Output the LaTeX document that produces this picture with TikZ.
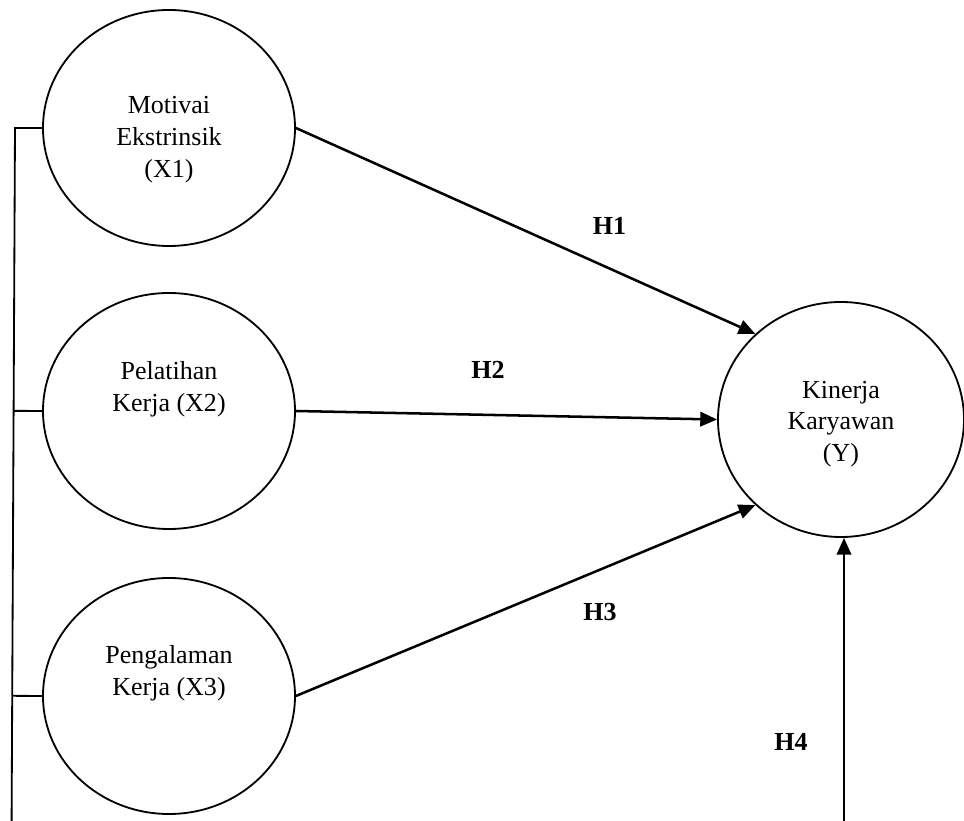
\documentclass[tikz,border=0pt]{standalone}
\usepackage{fontspec}
\setmainfont{Liberation Serif}
\usetikzlibrary{shapes.geometric, arrows.meta, calc}

\begin{document}
\begin{tikzpicture}[
    latent/.style={draw, ellipse, line width=1.3pt, minimum width=6.3cm, minimum height=5.9cm, inner sep=0pt},
    label_text/.style={align=center, font=\fontsize{18.5}{22.5}\selectfont},
    hyp/.style={font=\fontsize{18.5}{22.5}\selectfont\bfseries},
    path_arrow/.style={draw, line width=1.8pt, -{Triangle[length=0.42cm, width=0.36cm]}},
    link_line/.style={draw, line width=1.3pt}
]
    \useasboundingbox (0,0) rectangle (24.1,20.525);

    % Define coordinates
    \def\xX{4.225}
    \def\xaY{17.325}
    \def\xbY{10.25}
    \def\xcY{3.125}
    \def\yX{21.025}
    \def\yY{10.0375}

    % Variables
    \node[latent] (x1) at (\xX, \xaY) {};
    \node[latent] (x2) at (\xX, \xbY) {};
    \node[latent] (x3) at (\xX, \xcY) {};
    \node[latent, minimum width=6.15cm, minimum height=5.875cm] (y) at (\yX, \yY) {};

    % Labels
    \node[label_text] (x1text) at (\xX, \xaY-0.29) {Motivai\\Ekstrinsik\\(X1)};
    \node[label_text] (x2text) at (\xX, \xbY+0.54) {Pelatihan\\Kerja (X2)};
    \node[label_text] (x3text) at (\xX, \xcY+0.57) {Pengalaman\\Kerja (X3)};
    \node[label_text] (ytext) at (\yX, \yY-0.11) {Kinerja\\Karyawan\\(Y)};

    % Line joining X1, X2 and X3
    \coordinate (busTop) at (0.375, \xaY);
    \coordinate (busEnd) at (0.29, 0);
    \draw[link_line] (x1.west) -- (busTop) -- (busEnd);
    \draw[link_line] (x2.west) -- ($(busTop)!(x2.west)!(busEnd)$);
    \draw[link_line] (x3.west) -- ($(busTop)!(x3.west)!(busEnd)$);

    % Paths to Y
    \draw[path_arrow] (x1.east) -- (y.135);
    \draw[path_arrow] (x2.east) -- (y.west);
    \draw[path_arrow] (x3.east) -- (y.225);
    \coordinate (h4Start) at (21.1, 0);
    \draw[path_arrow] (h4Start) -- (h4Start |- y.south);

    % Hypotheses
    \node[hyp] (h1) at (15.24, 14.875) {H1};
    \node[hyp] (h2) at (12.2, 11.275) {H2};
    \node[hyp] (h3) at (15.0, 5.225) {H3};
    \node[hyp] (h4) at (19.775, 1.975) {H4};

\end{tikzpicture}
\end{document}
